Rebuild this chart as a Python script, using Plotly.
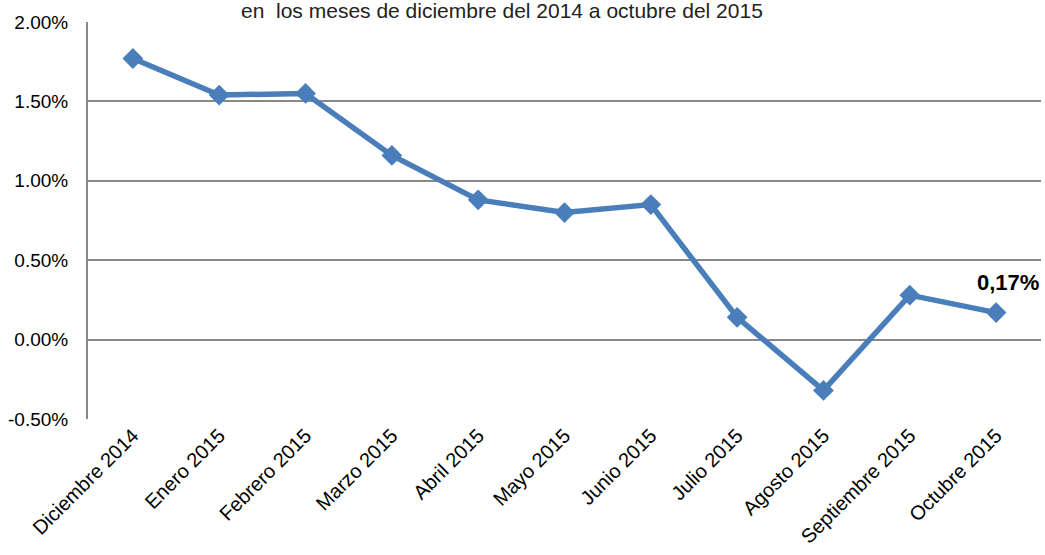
import plotly.graph_objects as go

categories = ["Diciembre 2014", "Enero 2015", "Febrero 2015", "Marzo 2015", "Abril 2015",
              "Mayo 2015", "Junio 2015", "Julio 2015", "Agosto 2015", "Septiembre 2015",
              "Octubre 2015"]
values = [1.77, 1.54, 1.55, 1.16, 0.88, 0.80, 0.85, 0.14, -0.32, 0.28, 0.17]
tick_vals = [-0.5, 0.0, 0.5, 1.0, 1.5, 2.0]
tick_text = ["-0.50%", "0.00%", "0.50%", "1.00%", "1.50%", "2.00%"]
title_text = "en  los meses de diciembre del 2014 a octubre del 2015"
last_label = "0,17%"

fig = go.Figure()
fig.add_trace(go.Scatter(
    x=list(range(len(categories))), y=values, mode="lines+markers",
    line=dict(color="#4a7ebb", width=5.5),
    marker=dict(symbol="diamond", size=16, color="#4a7ebb"),
    hoverinfo="skip", showlegend=False,
))

fig.add_annotation(x=len(categories) - 1, y=values[-1], text="<b>" + last_label + "</b>",
                   showarrow=False, xanchor="center", yanchor="bottom", yshift=16, xshift=12,
                   font=dict(family="Liberation Sans", size=22, color="#000"))
fig.add_annotation(x=0.434, y=1.0, xref="paper", yref="paper", text=title_text,
                   showarrow=False, xanchor="center", yanchor="middle", yshift=12,
                   font=dict(family="Liberation Sans Narrow, Liberation Sans", size=21, color="#222"))

fig.update_layout(
    width=1045, height=555,
    margin=dict(l=88, r=4, t=22, b=136),
    paper_bgcolor="white", plot_bgcolor="white",
    xaxis=dict(
        range=[-0.52, len(categories) - 0.48], automargin=False,
        tickmode="array", tickvals=list(range(len(categories))), ticktext=categories,
        tickangle=-45, showgrid=False, zeroline=False, showline=False,
        tickfont=dict(family="Liberation Sans", size=20, color="#000"),
    ),
    yaxis=dict(
        range=[-0.5, 2.0], tickmode="array", tickvals=tick_vals, ticktext=tick_text,
        showgrid=True, gridcolor="#888888", gridwidth=2, zeroline=False, automargin=False,
        showline=True, linecolor="#888888", linewidth=2,
        tickfont=dict(family="Liberation Sans", size=19, color="#000"),
        ticks="", ticklabelstandoff=14,
    ),
)

fig.write_html("out.html", config={"displayModeBar": False},
               post_script="document.body.style.margin='0';")
